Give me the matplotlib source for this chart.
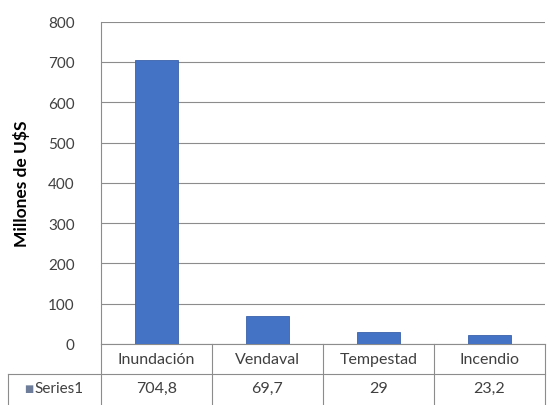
import matplotlib.pyplot as plt

# Data
categorias = ['Inundación', 'Vendaval', 'Tempestad', 'Incendio']
valores = [704.8, 69.7, 29, 23.2]
serie = 'Series1'
y_ticks = [0, 100, 200, 300, 400, 500, 600, 700, 800]

plt.rcParams['font.family'] = ['Lato', 'DejaVu Sans']

fig = plt.figure(figsize=(5.5, 4.06), dpi=100)
ax = fig.add_axes([101 / 550, 1 - 345 / 406, 444 / 550, 322.3 / 406])

x = range(len(categorias))
ax.bar(x, valores, width=0.39, color='#4473c5', edgecolor='#3a62ab', linewidth=0.6, zorder=3)

ax.set_xlim(-0.5, len(categorias) - 0.5)
ax.set_ylim(0, 800)
ax.set_yticks(y_ticks)
ax.set_yticklabels([str(t) for t in y_ticks], fontsize=11, color='#404040')
ax.tick_params(axis='y', length=0, pad=19)
ax.set_xticks([])
ax.grid(axis='y', color='#8c8c8c', linewidth=0.8, zorder=0)
for s in ['top', 'right', 'bottom']:
    ax.spines[s].set_visible(False)
ax.spines['left'].set_color('#8c8c8c')
ax.spines['left'].set_linewidth(0.8)

ax.set_ylabel('Millones de U$S', fontsize=12.5, fontweight='bold')
ax.yaxis.set_label_coords(-71 / 444, 0.5)

# Data table below the plot
line_kw = dict(color='#8c8c8c', linewidth=0.8, clip_on=False, transform=ax.transAxes)
row1 = -30 / 322.3
row2 = -61 / 322.3
left_cell = -93 / 444
ax.plot([0, 1], [0, 0], **line_kw)
ax.plot([left_cell, 1], [row1, row1], **line_kw)
ax.plot([left_cell, left_cell], [row1, row2], **line_kw)
n = len(categorias)
for i in range(n + 1):
    ax.plot([i / n, i / n], [0, row2], **line_kw)

for i, (cat, val) in enumerate(zip(categorias, valores)):
    xc = (i + 0.5) / n
    ax.text(xc, row1 / 2, cat, transform=ax.transAxes, ha='center', va='center',
            fontsize=11.5, color='#404040')
    ax.text(xc, (row1 + row2) / 2 + 0.005, f'{val:g}'.replace('.', ','), transform=ax.transAxes,
            ha='center', va='center', fontsize=11.5, color='#404040')

ax.text(-72 / 444, (row1 + row2) / 2 + 0.005, '\u25a0', transform=ax.transAxes, ha='center',
        va='center', fontsize=7, color='#6e7e9a', family=['DejaVu Sans'])
ax.text(-67 / 444, (row1 + row2) / 2 + 0.005, serie, transform=ax.transAxes, ha='left',
        va='center', fontsize=11, color='#404040')

fig.savefig('out.png', dpi=100)
